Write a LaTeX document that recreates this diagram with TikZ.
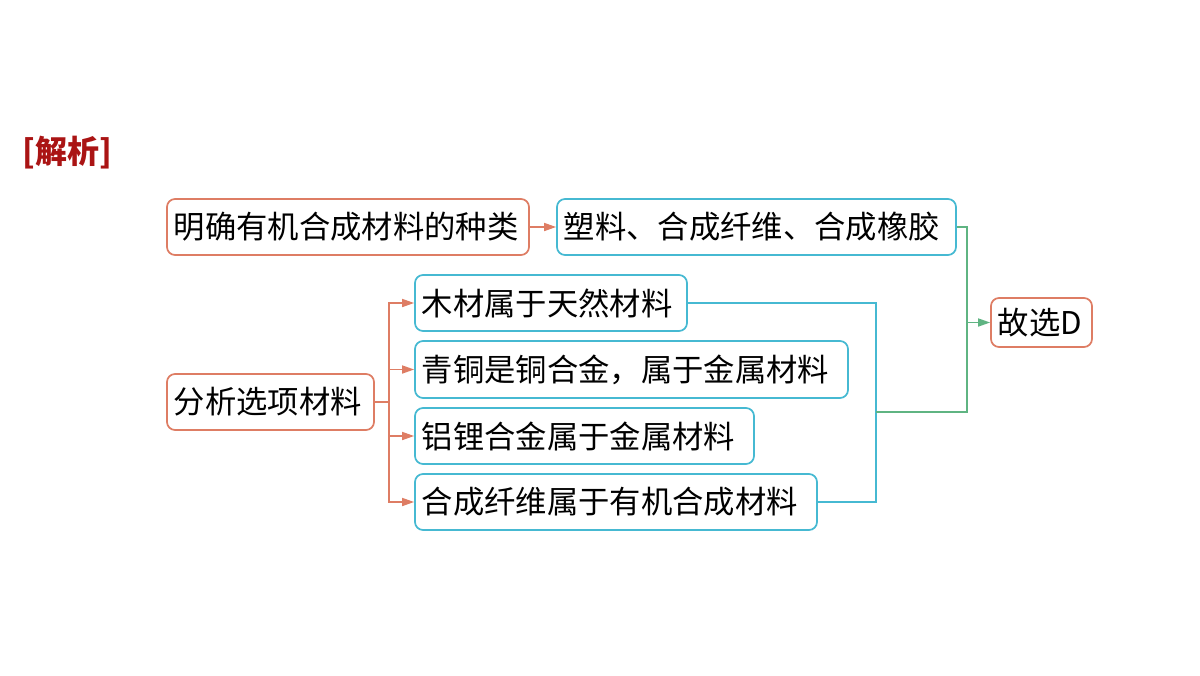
\documentclass[tikz,border=0pt]{standalone}
\usepackage{fontspec}
\setmainfont{Noto Sans CJK SC}
\usetikzlibrary{arrows.meta}
\definecolor{org}{RGB}{222,125,100}
\definecolor{blu}{RGB}{70,185,210}
\definecolor{grn}{RGB}{95,180,130}
\definecolor{hdr}{RGB}{170,20,20}
\begin{document}
\begin{tikzpicture}[x=0.75pt,y=-0.75pt,
 bx/.style n args={2}{draw,line width=1.3pt,rounded corners=6pt,inner xsep=5pt,inner ysep=0pt,
   font=\fontsize{23.5}{26}\selectfont,anchor=center,align=left,
   text width=#1*0.75pt-10pt,minimum height=#2*0.75pt},
 ob/.style 2 args={bx={#1}{#2},draw=org},
 bb/.style 2 args={bx={#1}{#2},draw=blu},
 tip/.style={-{Triangle[length=9pt,width=6pt]}},
 oa/.style={draw=org,line width=1.2pt,tip},
 bl/.style={draw=blu,line width=1.2pt},
 gl/.style={draw=grn,line width=1.2pt}]
\useasboundingbox (0,0) rectangle (1200,675);
\node[font=\fontsize{24}{28}\selectfont\bfseries,text=hdr,anchor=west] (h) at (18,153) {[解析]};
\node[ob={362}{56}] (a) at (348,227) {明确有机合成材料的种类};
\node[bb={399}{56}] (b) at (756.5,227) {塑料、合成纤维、合成橡胶};
\node[ob={207}{56}] (c) at (270.5,402) {分析选项材料};
\node[bb={272}{56}] (d1) at (551,303) {木材属于天然材料};
\node[bb={433}{57}] (d2) at (631.5,369.5) {青铜是铜合金，属于金属材料};
\node[bb={339}{56}] (d3) at (584.5,436) {铝锂合金属于金属材料};
\node[bb={402}{56}] (d4) at (616,502) {合成纤维属于有机合成材料};
\node[ob={101}{49}] (e) at (1041.5,322.5) {故选D};
\draw[oa] (a) -- (b);
\coordinate (oj) at (389,402);
\draw[org,line width=1.2pt] (c.east) -- (oj);
\foreach \d in {d1,d2,d3,d4} \draw[oa] (oj) |- (\d.west);
\coordinate (bj) at (876,412);
\draw[bl] (d1.east) -| (bj);
\draw[bl] (d4.east) -| (bj);
\coordinate (gj) at (967,322.5);
\draw[gl] (b.east) -| (967,412) -- (bj);
\draw[gl,tip] (gj) -- (e.west);
\end{tikzpicture}
\end{document}
